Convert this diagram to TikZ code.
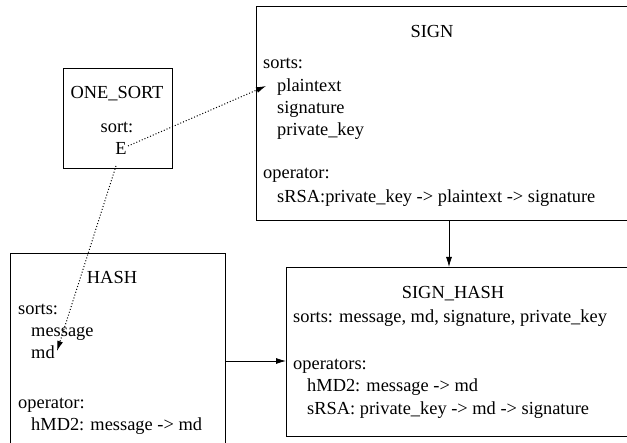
\documentclass[tikz,border=0pt]{standalone}
\usepackage{fontspec}
\setmainfont{Liberation Serif}
\usetikzlibrary{arrows.meta}
\tikzset{
  box/.style={draw, line width=0.8pt, inner sep=0pt, anchor=north west},
  txt/.style={inner sep=0pt, anchor=base west, font=\fontsize{18.4}{22}\selectfont},
  ttl/.style={inner sep=0pt, anchor=base, font=\fontsize{18.4}{22}\selectfont},
  solidarrow/.style={line width=0.8pt, -{Latex[length=10pt,width=6pt]}},
  dotarrow/.style={line width=1pt, dotted, -{Latex[length=10pt,width=6pt]}}
}
\begin{document}
\begin{tikzpicture}[x=1pt,y=-1pt]
\useasboundingbox (0,0) rectangle (627,443);
\clip (0,0) rectangle (627,443);
% boxes
\node[box, minimum width=109pt, minimum height=100pt] (onesort) at (63,68) {};
\node[box, minimum width=400pt, minimum height=214pt] (sign) at (256,6.5) {};
\node[box, minimum width=215pt, minimum height=220pt] (hash) at (10,253) {};
\node[box, minimum width=360pt, minimum height=169pt] (signhash) at (286,267) {};
% ONE_SORT text
\node[ttl] (ost) at (117,99) {ONE\_SORT};
\node[ttl] (oss) at (117,133) {sort:};
\node[ttl] (ose) at (121,155) {E};
% SIGN text
\node[ttl] (sgt) at (432,38) {SIGN};
\node[txt] (sg1) at (263,69) {sorts:};
\node[txt] (sg2) at (277,92) {plaintext};
\node[txt] (sg3) at (277,114) {signature};
\node[txt] (sg4) at (277,136) {private\_key};
\node[txt] (sg5) at (263,179) {operator:};
\node[txt] (sg6) at (277,203) {sRSA:private\_key -> plaintext -> signature};
% HASH text
\node[ttl] (hst) at (112,284) {HASH};
\node[txt] (hs1) at (18,315) {sorts:};
\node[txt] (hs2) at (31,337) {message};
\node[txt] (hs3) at (31,359) {md};
\node[txt] (hs4) at (18,409) {operator:};
\node[txt] (hs5) at (31,431) {hMD2: message -> md};
% SIGN_HASH text
\node[ttl] (sht) at (453,299) {SIGN\_HASH};
\node[txt] (sh1) at (293,323) {sorts: message, md, signature, private\_key};
\node[txt] (sh2) at (293,370) {operators:};
\node[txt] (sh3) at (307,392) {hMD2: message -> md};
\node[txt] (sh4) at (307,415) {sRSA: private\_key -> md -> signature};
% connectors
\coordinate (vx) at (449,0);
\coordinate (hy) at (0,361);
\draw[solidarrow] (sign.south -| vx) -- (signhash.north -| vx);
\draw[solidarrow] (hash.east |- hy) -- (signhash.west |- hy);
\coordinate (e1) at (128,146);
\coordinate (p1) at (266,86);
\coordinate (e2) at (116,166);
\coordinate (m1) at (57,351);
\draw[dotarrow] (e1) -- (p1);
\draw[dotarrow] (e2) -- (m1);
\end{tikzpicture}
\end{document}
